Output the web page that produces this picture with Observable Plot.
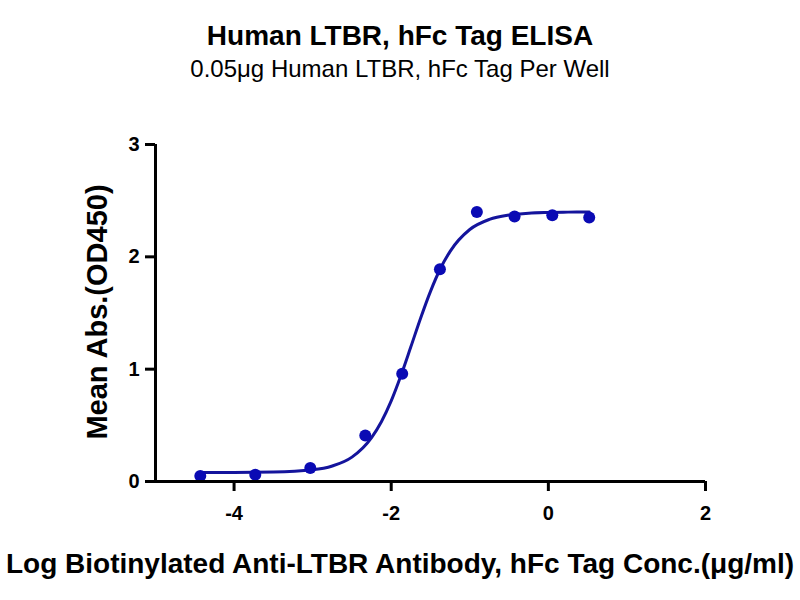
<!DOCTYPE html>
<html><head><meta charset="utf-8">
<script src="https://cdn.jsdelivr.net/npm/d3@7"></script>
<script src="https://cdn.jsdelivr.net/npm/@observablehq/plot@0.6"></script>
<style>
body{margin:0;background:#fff;font-family:"Liberation Sans",Arial,sans-serif;}
#wrap{position:relative;width:800px;height:600px;overflow:hidden;}
.t{position:absolute;left:0;width:800px;text-align:center;color:#000;white-space:nowrap;line-height:1.15;}
#title{top:20px;font-size:28px;font-weight:bold;}
#sub{top:55px;font-size:24px;}
#xl{top:548px;font-size:28px;font-weight:bold;}
#yl{position:absolute;left:98px;top:312px;transform:translate(-50%,-50%) rotate(-90deg);font-size:29px;font-weight:bold;white-space:nowrap;line-height:1.15;}
</style></head>
<body><div id="wrap">
<div id="title" class="t">Human LTBR, hFc Tag ELISA</div>
<div id="sub" class="t">0.05μg Human LTBR, hFc Tag Per Well</div>
<div id="chart"></div>
<div id="xl" class="t">Log Biotinylated Anti-LTBR Antibody, hFc Tag Conc.(μg/ml)</div>
<div id="yl">Mean Abs.(OD450)</div>
</div>
<script>
// measured points
const logConc = [-4.43, -3.73, -3.03, -2.33, -1.86, -1.38, -0.91, -0.43, 0.05, 0.52];
const meanAbs = [0.05, 0.06, 0.12, 0.41, 0.96, 1.89, 2.40, 2.36, 2.37, 2.35];
// fitted curve
const curveX = [-4.43, -4.0, -3.5, -3.0, -2.75, -2.5, -2.25, -2.125, -2.0, -1.875, -1.75, -1.625, -1.5, -1.375, -1.25, -1.0, -0.75, -0.5, -0.25, 0.0, 0.25, 0.52];
const curveY = [0.080, 0.081, 0.084, 0.104, 0.138, 0.217, 0.391, 0.532, 0.717, 0.945, 1.199, 1.456, 1.693, 1.894, 2.049, 2.243, 2.333, 2.372, 2.389, 2.395, 2.398, 2.399];
const xTicks = [-4, -2, 0, 2];
const yTicks = [0, 1, 2, 3];

const pts = logConc.map((x, i) => ({x, y: meanAbs[i]}));
const curve = curveX.map((x, i) => ({x, y: curveY[i]}));

const chart = Plot.plot({
  width: 800, height: 600,
  marginLeft: 155, marginRight: 95, marginTop: 144, marginBottom: 119,
  style: {fontFamily: "Liberation Sans, Arial, sans-serif", color: "#000", background: "#fff"},
  x: {domain: [-5, 2]},
  y: {domain: [0, 3]},
  marks: [
    Plot.line(curve, {x: "x", y: "y", stroke: "#14149c", strokeWidth: 3, curve: "monotone-x"}),
    Plot.dot(pts, {x: "x", y: "y", r: 6, fill: "#0a0ab4", stroke: "none"}),
    Plot.axisX({ticks: xTicks, tickFormat: d => d < 0 ? "-" + Math.abs(d) : String(d), tickSize: 10, tickPadding: 14, strokeWidth: 3, fontSize: 20, fontWeight: "bold", label: null}),
    Plot.axisY({ticks: yTicks, tickFormat: d => String(d), tickSize: 10, tickPadding: 6, strokeWidth: 3, fontSize: 20, fontWeight: "bold", label: null}),
    Plot.ruleY([0], {stroke: "#000", strokeWidth: 3}),
    Plot.ruleX([-5], {stroke: "#000", strokeWidth: 3})
  ]
});
document.getElementById("chart").appendChild(chart);
</script>
</body></html>
